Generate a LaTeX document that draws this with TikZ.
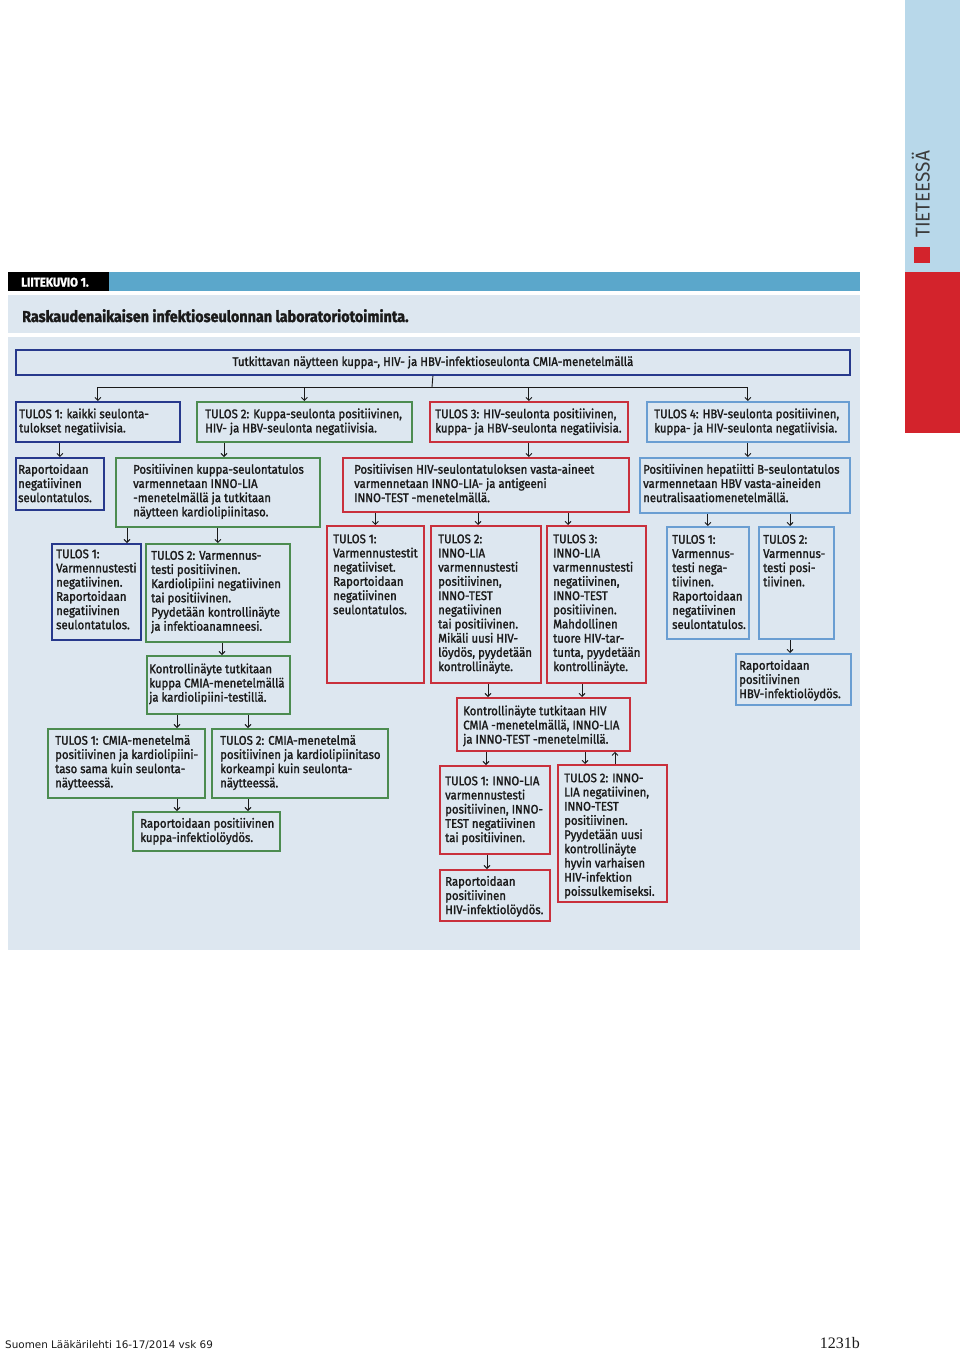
\documentclass[tikz,border=0pt]{standalone}
\usepackage{fontspec}
\setmainfont{Fira Sans}[FakeStretch=0.91, FakeBold=1.6]
\newfontfamily\thinfont{Fira Sans}[FakeStretch=0.95]
\newfontfamily\footfont{DejaVu Sans}[FakeStretch=1.0]
\newfontfamily\pagefont{Liberation Serif}[FakeStretch=1.0]
\usetikzlibrary{arrows.meta}

\definecolor{navy}{HTML}{27398C}
\definecolor{leaf}{HTML}{4C8C50}
\definecolor{crimson}{HTML}{C9303C}
\definecolor{sky}{HTML}{6A9ED2}
\definecolor{panel}{HTML}{DDE7F0}
\definecolor{bar}{HTML}{5BA7CB}
\definecolor{strip}{HTML}{B8D8EA}
\definecolor{stripred}{HTML}{D3232C}
\definecolor{ink}{HTML}{1A1A1A}

\tikzset{
  box/.style={draw, line width=1.8pt, inner sep=0pt, anchor=north west},
  navybox/.style={box, draw=navy},
  leafbox/.style={box, draw=leaf},
  redbox/.style={box, draw=crimson},
  skybox/.style={box, draw=sky},
  txt/.style={anchor=north west, inner sep=0pt, align=left, text=ink,
    font=\fontsize{12.5}{14.2}\selectfont},
  link/.style={line width=0.9pt, draw=ink},
  arr/.style={link, -{Straight Barb[length=3pt,width=6pt]}},
}

% name, style, x1, y1, x2, y2, text indent, first baseline, text
\newcommand{\flowbox}[9]{%
  \node[#2, minimum width={#5-#3}, minimum height={#6-#4}] (#1) at (#3,#4) {};
  \node[txt] (#1t) at ([shift={(#7,{#8-12})}]#1.north west) {\rule{0pt}{12pt}#9};
}

\begin{document}
\begin{tikzpicture}[x=1pt, y=-1pt]
  \useasboundingbox (0,0) rectangle (960,1351);
  \fill[white] (0,0) rectangle (960,1351);

  % page furniture
  \fill[strip] (905,0) rectangle (960,272);
  \fill[stripred] (905,272) rectangle (960,433);
  \fill[stripred] (914,247) rectangle (930,263);
  \node[rotate=90, anchor=base west, inner sep=0pt, text=ink!85,
    font=\thinfont\fontsize{20}{20}\selectfont] (section) at (929.5,238) {TIETEESSÄ};

  \fill[bar] (8,272) rectangle (860,291);
  \fill[black] (8,272) rectangle (109,291);
  \node[anchor=base west, inner sep=0pt, text=white,
    font=\bfseries\fontsize{12.5}{12.5}\selectfont] (figno) at (21,286.5) {LIITEKUVIO 1.};
  \fill[panel] (8,295) rectangle (860,333);
  \node[anchor=base west, inner sep=0pt, text=ink,
    font=\bfseries\fontsize{15.8}{16}\selectfont] (title) at (22,322)
    {Raskaudenaikaisen infektioseulonnan laboratoriotoiminta.};
  \fill[panel] (8,337) rectangle (860,950);

  % screening
  \node[navybox, minimum width=834, minimum height=25, text=ink,
    font=\fontsize{12.5}{14.2}\selectfont] (top) at (15,349)
    {Tutkittavan näytteen kuppa-, HIV- ja HBV-infektioseulonta CMIA-menetelmällä};

  \flowbox{t1}{navybox}{15}{401}{179}{441}{4}{17}{TULOS 1: kaikki seulonta-\\tulokset negatiivisia.}
  \flowbox{t2}{leafbox}{196}{401}{411}{441}{9}{17}{TULOS 2: Kuppa-seulonta positiivinen,\\HIV- ja HBV-seulonta negatiivisia.}
  \flowbox{t3}{redbox}{429}{401}{627}{441}{6}{17}{TULOS 3: HIV-seulonta positiivinen,\\kuppa- ja HBV-seulonta negatiivisia.}
  \flowbox{t4}{skybox}{646}{401}{848}{441}{8}{17}{TULOS 4: HBV-seulonta positiivinen,\\kuppa- ja HIV-seulonta negatiivisia.}

  \flowbox{r1}{navybox}{15}{457}{103}{509}{3}{16.5}{Raportoidaan\\negatiivinen\\seulontatulos.}
  \flowbox{k}{leafbox}{115}{457}{319}{526}{18}{16.5}{Positiivinen kuppa-seulontatulos\\varmennetaan INNO-LIA\\-menetelmällä ja tutkitaan\\näytteen kardiolipiinitaso.}
  \flowbox{h}{redbox}{342}{457}{628}{511}{12}{16.5}{Positiivisen HIV-seulontatuloksen vasta-aineet\\varmennetaan INNO-LIA- ja antigeeni\\INNO-TEST -menetelmällä.}
  \flowbox{b}{skybox}{639}{457}{849}{512}{4}{16.5}{Positiivinen hepatiitti B-seulontatulos\\varmennetaan HBV vasta-aineiden\\neutralisaatiomenetelmällä.}

  % kuppa
  \flowbox{kt1}{navybox}{51}{543}{140}{639}{5}{15}{TULOS 1:\\Varmennustesti\\negatiivinen.\\Raportoidaan\\negatiivinen\\seulontatulos.}
  \flowbox{kt2}{leafbox}{145}{543}{289}{641}{6}{16.5}{TULOS 2: Varmennus-\\testi positiivinen.\\Kardiolipiini negatiivinen\\tai positiivinen.\\Pyydetään kontrollinäyte\\ja infektioanamneesi.}
  \flowbox{kc}{leafbox}{146}{655}{289}{713}{3}{18}{Kontrollinäyte tutkitaan\\kuppa CMIA-menetelmällä\\ja kardiolipiini-testillä.}
  \flowbox{kr1}{leafbox}{47}{728}{204}{797}{8}{16.5}{TULOS 1: CMIA-menetelmä\\positiivinen ja kardiolipiini-\\taso sama kuin seulonta-\\näytteessä.}
  \flowbox{kr2}{leafbox}{211}{728}{387}{797}{9}{16.5}{TULOS 2: CMIA-menetelmä\\positiivinen ja kardiolipiinitaso\\korkeampi kuin seulonta-\\näytteessä.}
  \flowbox{kp}{leafbox}{132}{811}{279}{850}{8}{16.5}{Raportoidaan positiivinen\\kuppa-infektiolöydös.}

  % HIV
  \flowbox{ht1}{redbox}{326}{525}{423}{682}{7}{18}{TULOS 1:\\Varmennustestit\\negatiiviset.\\Raportoidaan\\negatiivinen\\seulontatulos.}
  \flowbox{ht2}{redbox}{430}{525}{540}{682}{8}{18}{TULOS 2:\\INNO-LIA\\varmennustesti\\positiivinen,\\INNO-TEST\\negatiivinen\\tai positiivinen.\\Mikäli uusi HIV-\\löydös, pyydetään\\kontrollinäyte.}
  \flowbox{ht3}{redbox}{546}{525}{645}{682}{7}{18}{TULOS 3:\\INNO-LIA\\varmennustesti\\negatiivinen,\\INNO-TEST\\positiivinen.\\Mahdollinen\\tuore HIV-tar-\\tunta, pyydetään\\kontrollinäyte.}
  \flowbox{hc}{redbox}{456}{697}{629}{750}{7}{18}{Kontrollinäyte tutkitaan HIV\\CMIA -menetelmällä, INNO-LIA\\ja INNO-TEST -menetelmillä.}
  \flowbox{hr1}{redbox}{439}{765}{549}{853}{6}{20}{TULOS 1: INNO-LIA\\varmennustesti\\positiivinen, INNO-\\TEST negatiivinen\\tai positiivinen.}
  \flowbox{hr2}{redbox}{557}{764}{666}{901}{7}{18}{TULOS 2: INNO-\\LIA negatiivinen,\\INNO-TEST\\positiivinen.\\Pyydetään uusi\\kontrollinäyte\\hyvin varhaisen\\HIV-infektion\\poissulkemiseksi.}
  \flowbox{hp}{redbox}{439}{869}{549}{920}{6}{16.5}{Raportoidaan\\positiivinen\\HIV-infektiolöydös.}

  % HBV
  \flowbox{bt1}{skybox}{666}{526}{748}{638}{6}{17.5}{TULOS 1:\\Varmennus-\\testi nega-\\tiivinen.\\Raportoidaan\\negatiivinen\\seulontatulos.}
  \flowbox{bt2}{skybox}{758}{526}{833}{638}{5}{17.5}{TULOS 2:\\Varmennus-\\testi posi-\\tiivinen.}
  \flowbox{bp}{skybox}{735}{653}{850}{704}{4}{16.5}{Raportoidaan\\positiivinen\\HBV-infektiolöydös.}

  % connectors
  \coordinate (split) at (432,387);
  \draw[link] (top.south) -- (split);
  \draw[link] (t1.north |- split) -- (t4.north |- split);
  \foreach \n in {t1,t2,t3,t4}
    \draw[arr] (\n.north |- split) -- (\n.north);

  \draw[arr] (r1.north |- t1.south) -- (r1.north);
  \draw[arr] (224,0 |- t2.south) -- (224,0 |- k.north);
  \draw[arr] (t3.south) -- (t3.south |- h.north);
  \draw[arr] (t4.south) -- (t4.south |- b.north);

  \draw[arr] (127,0 |- k.south) -- (127,0 |- kt1.north);
  \draw[arr] (kt2.north |- k.south) -- (kt2.north);
  \draw[arr] (222,0 |- kt2.south) -- (222,0 |- kc.north);
  \draw[arr] (177,0 |- kc.south) -- (177,0 |- kr1.north);
  \draw[arr] (248,0 |- kc.south) -- (248,0 |- kr2.north);
  \draw[arr] (177,0 |- kr1.south) -- (177,0 |- kp.north);
  \draw[arr] (248,0 |- kr2.south) -- (248,0 |- kp.north);

  \draw[arr] (ht1.north |- h.south) -- (ht1.north);
  \draw[arr] (478,0 |- h.south) -- (478,0 |- ht2.north);
  \draw[arr] (568,0 |- h.south) -- (568,0 |- ht3.north);
  \draw[arr] (488,0 |- ht2.south) -- (488,0 |- hc.north);
  \draw[arr] (582,0 |- ht3.south) -- (582,0 |- hc.north);
  \draw[arr] (486,0 |- hc.south) -- (486,0 |- hr1.north);
  \draw[arr] (585,0 |- hc.south) -- (585,0 |- hr2.north);
  \draw[arr] (615,0 |- hr2.north) -- (615,0 |- hc.south);
  \draw[arr] (487,0 |- hr1.south) -- (487,0 |- hp.north);

  \draw[arr] (bt1.north |- b.south) -- (bt1.north);
  \draw[arr] (790,0 |- b.south) -- (790,0 |- bt2.north);
  \draw[arr] (790,0 |- bt2.south) -- (790,0 |- bp.north);

  % footer
  \node[anchor=base west, inner sep=0pt, text=ink,
    font=\footfont\fontsize{10.4}{11}\selectfont] (journal) at (5,1348)
    {Suomen Lääkärilehti 16-17/2014 vsk 69};
  \node[anchor=base east, inner sep=0pt, text=ink,
    font=\pagefont\fontsize{16}{16}\selectfont] (page) at (860,1348) {1231b};
\end{tikzpicture}
\end{document}
